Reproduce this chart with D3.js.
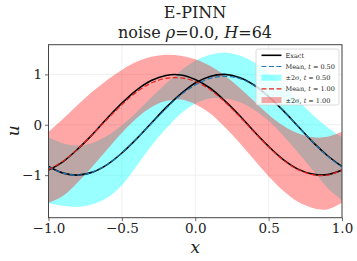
<!DOCTYPE html>
<html>
<head>
<meta charset="utf-8">
<script src="https://cdn.jsdelivr.net/npm/d3@7"></script>
<style>
  body { margin: 0; background: #fff; }
  svg { display: block; }
</style>
</head>
<body>
<script>
// sample positions
let xs = [-1.0, -0.9, -0.8, -0.7, -0.6, -0.5, -0.4, -0.3, -0.2, -0.1, 0.0,
          0.1, 0.2, 0.3, 0.4, 0.5, 0.6, 0.7, 0.8, 0.9, 1.0];

// t = 0.50
let exact05 = [-0.83, -0.96, -1.00, -0.94, -0.79, -0.56, -0.28, 0.03, 0.34, 0.61, 0.83,
               0.96, 1.00, 0.94, 0.79, 0.56, 0.28, -0.03, -0.34, -0.61, -0.83];
let mean05 = [-0.84, -0.96, -1.00, -0.94, -0.79, -0.56, -0.28, 0.02, 0.32, 0.59, 0.79,
              0.92, 0.96, 0.92, 0.78, 0.56, 0.28, -0.03, -0.34, -0.62, -0.84];
let upper05 = [-0.25, -0.37, -0.41, -0.36, -0.22, -0.01, 0.25, 0.54, 0.82, 1.07, 1.27,
               1.39, 1.43, 1.38, 1.24, 1.03, 0.77, 0.48, 0.20, -0.05, -0.25];
let lower05 = [-1.56, -1.61, -1.63, -1.58, -1.45, -1.20, -0.82, -0.42, -0.08, 0.22, 0.42,
               0.52, 0.52, 0.45, 0.30, 0.08, -0.22, -0.55, -0.90, -1.25, -1.50];

// t = 1.00
let exact10 = [-0.90, -0.73, -0.48, -0.19, 0.13, 0.43, 0.69, 0.88, 0.98, 0.99, 0.90,
               0.73, 0.48, 0.19, -0.13, -0.43, -0.69, -0.88, -0.98, -0.99, -0.90];
let mean10 = [-0.89, -0.72, -0.48, -0.19, 0.11, 0.40, 0.65, 0.83, 0.92, 0.93, 0.86,
              0.70, 0.46, 0.17, -0.14, -0.44, -0.70, -0.89, -0.99, -1.00, -0.90];
let upper10 = [-0.14, 0.12, 0.40, 0.66, 0.89, 1.09, 1.25, 1.35, 1.39, 1.37, 1.30,
               1.17, 0.98, 0.74, 0.47, 0.20, -0.02, -0.17, -0.25, -0.24, -0.14];
let lower10 = [-1.55, -1.41, -1.14, -0.83, -0.49, -0.16, 0.13, 0.35, 0.47, 0.50, 0.41,
               0.23, -0.04, -0.35, -0.69, -1.02, -1.31, -1.53, -1.65, -1.68, -1.55];

let xTicks = [-1.0, -0.5, 0.0, 0.5, 1.0];
let yTicks = [-1, 0, 1];
let legendLabels = ["Exact", "Mean, t = 0.50", "\u00b12\u03c3, t = 0.50", "Mean, t = 1.00", "\u00b12\u03c3, t = 1.00"];

let serif = "DejaVu Serif";

let W = 357, H = 261;
let margin = {top: 44.7, right: 15, bottom: 43.3, left: 48.5},
    width = W - margin.left - margin.right,
    height = H - margin.top - margin.bottom;

let svg = d3.select("body").append("svg")
    .attr("width", W)
    .attr("height", H)
    .style("font-family", serif);

let g = svg.append("g")
    .attr("transform", "translate(" + margin.left + "," + margin.top + ")");

let x = d3.scaleLinear().domain([-1, 1]).range([0, width]);
let y = d3.scaleLinear().domain([-1.845, 1.59]).range([height, 0]);

svg.append("clipPath").attr("id", "clip")
    .append("rect").attr("width", width).attr("height", height);

// grid
g.append("g").selectAll("line").data(xTicks).enter().append("line")
    .attr("x1", d => x(d)).attr("x2", d => x(d))
    .attr("y1", 0).attr("y2", height)
    .attr("stroke", "#ebebeb").attr("stroke-width", 0.8);
g.append("g").selectAll("line").data(yTicks).enter().append("line")
    .attr("y1", d => y(d)).attr("y2", d => y(d))
    .attr("x1", 0).attr("x2", width)
    .attr("stroke", "#ebebeb").attr("stroke-width", 0.8);

let plot = g.append("g").attr("clip-path", "url(#clip)");

let area = (lo, hi) => d3.area()
    .x((d, i) => x(xs[i]))
    .y0((d, i) => y(lo[i]))
    .y1((d, i) => y(hi[i]))
    .curve(d3.curveCatmullRom)(xs);

let line = (vals) => d3.line()
    .x((d, i) => x(xs[i]))
    .y((d, i) => y(vals[i]))
    .curve(d3.curveCatmullRom)(xs);

// bands
plot.append("path").attr("d", area(lower05, upper05))
    .attr("fill", "#00ffff").attr("fill-opacity", 0.4);
plot.append("path").attr("d", area(lower10, upper10))
    .attr("fill", "#ff0000").attr("fill-opacity", 0.35);

// exact
plot.append("path").attr("d", line(exact05))
    .attr("fill", "none").attr("stroke", "#000").attr("stroke-width", 1.6);
plot.append("path").attr("d", line(exact10))
    .attr("fill", "none").attr("stroke", "#000").attr("stroke-width", 1.6);

// means
plot.append("path").attr("d", line(mean05))
    .attr("fill", "none").attr("stroke", "#1f77b4").attr("stroke-width", 1.2)
    .attr("stroke-dasharray", "5,2.5");
plot.append("path").attr("d", line(mean10))
    .attr("fill", "none").attr("stroke", "#e8211d").attr("stroke-width", 1.2)
    .attr("stroke-dasharray", "5,2.5");

// axes
let xAxis = d3.axisBottom(x).tickValues(xTicks).tickSize(3.5).tickPadding(2.5)
    .tickFormat(d3.format(".1f"));
let yAxis = d3.axisLeft(y).tickValues(yTicks).tickSize(3.5).tickPadding(3)
    .tickFormat(d3.format("d"));

let gx = g.append("g")
    .attr("transform", "translate(0," + height + ")")
    .call(xAxis);
let gy = g.append("g").call(yAxis);

[gx, gy].forEach(a => {
    a.attr("font-family", null).attr("font-size", null)
     .style("font-family", serif).style("font-size", "13.5px");
    a.select(".domain").remove();
    a.selectAll("line").attr("stroke", "#444").attr("stroke-width", 0.8);
    a.selectAll("text").attr("fill", "#222");
});

// frame
g.append("rect")
    .attr("width", width).attr("height", height)
    .attr("fill", "none").attr("stroke", "#444").attr("stroke-width", 1);

// titles
svg.append("text")
    .attr("x", 195).attr("y", 17.5)
    .attr("text-anchor", "middle")
    .style("font-size", "16px").attr("fill", "#222")
    .text("E-PINN");

let sub = svg.append("text")
    .attr("x", 195).attr("y", 37.5)
    .attr("text-anchor", "middle")
    .style("font-size", "16px").attr("fill", "#222");
sub.append("tspan").text("noise ");
sub.append("tspan").style("font-style", "italic").text("\u03c1");
sub.append("tspan").text("=0.0, ");
sub.append("tspan").style("font-style", "italic").text("H");
sub.append("tspan").text("=64");

svg.append("text")
    .attr("x", margin.left + width / 2).attr("y", 253)
    .attr("text-anchor", "middle")
    .style("font-size", "17px").style("font-style", "italic").attr("fill", "#222")
    .text("x");

svg.append("text")
    .attr("transform", "translate(18.5," + (margin.top + y(0) + 6) + ") rotate(-90)")
    .attr("text-anchor", "middle")
    .style("font-size", "17px").style("font-style", "italic").attr("fill", "#222")
    .text("u");

// legend
let lg = svg.append("g").attr("transform", "translate(256,49)");
lg.append("rect")
    .attr("width", 83).attr("height", 56).attr("rx", 2)
    .attr("fill", "#fff").attr("fill-opacity", 0.8)
    .attr("stroke", "#d0d0d0").attr("stroke-width", 0.8);

let items = lg.selectAll(".item").data(legendLabels).enter()
    .append("g")
    .attr("transform", (d, i) => "translate(0," + (6.3 + i * 11.2) + ")");

items.each(function(d, i) {
    let it = d3.select(this);
    if (i === 0) {
        it.append("line").attr("x1", 5.5).attr("x2", 25.5).attr("y1", 0).attr("y2", 0)
            .attr("stroke", "#000").attr("stroke-width", 1.6);
    } else if (i === 1 || i === 3) {
        it.append("line").attr("x1", 5.5).attr("x2", 25.5).attr("y1", 0).attr("y2", 0)
            .attr("stroke", i === 1 ? "#1f77b4" : "#e8211d").attr("stroke-width", 1.2)
            .attr("stroke-dasharray", "5,2.5");
    } else {
        it.append("rect").attr("x", 5.5).attr("y", -3).attr("width", 20).attr("height", 6)
            .attr("fill", i === 2 ? "#00ffff" : "#ff0000")
            .attr("fill-opacity", i === 2 ? 0.4 : 0.35);
    }
    let t = it.append("text").attr("x", 29.5).attr("y", 2.4)
        .style("font-size", "6.5px").attr("fill", "#222");
    if (i === 0) {
        t.text(d);
    } else {
        let parts = d.split("t");
        t.append("tspan").text(parts[0]);
        t.append("tspan").style("font-style", "italic").text("t");
        t.append("tspan").text(parts[1]);
    }
});
</script>
</body>
</html>
